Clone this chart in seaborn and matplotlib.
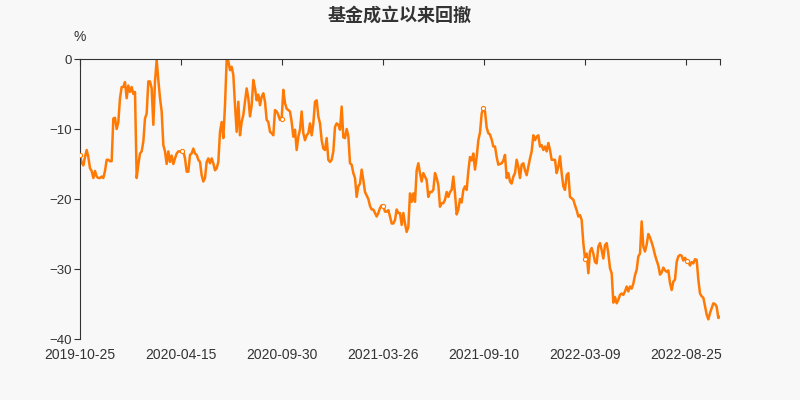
import numpy as np
import pandas as pd
import matplotlib
matplotlib.use("Agg")
import matplotlib.pyplot as plt
import seaborn as sns

# 回撤数据 (%)，按交易日顺序等间距读取
drawdown = [
    -13.7, -14.8, -15.2, -14.0, -13.0, -14.0, -15.6, -16.0, -17.0, -16.0,
    -16.8, -17.0, -17.0, -16.8, -17.0, -16.0, -14.4, -14.4, -14.6, -14.6,
    -8.5, -8.4, -10.0, -9.0, -5.6, -4.0, -4.0, -3.3, -5.6, -3.8,
    -4.7, -4.0, -5.0, -4.7, -17.0, -15.1, -13.5, -13.2, -11.8, -8.5,
    -7.8, -3.2, -3.2, -4.2, -9.4, -3.2, -0.1, -3.0, -5.6, -7.5,
    -12.3, -13.2, -15.0, -13.2, -14.7, -13.8, -15.0, -14.2, -13.5, -13.2,
    -13.2, -13.2, -13.2, -14.2, -16.1,
    -16.1, -13.7, -13.5, -12.8, -13.5, -13.7, -14.4, -14.7, -16.6, -17.5,
    -17.0, -14.7, -14.2, -14.9, -14.2, -14.9, -15.9, -15.6, -14.7, -10.4,
    -9.0, -11.3, -6.6, -0.1, -0.3, -1.6, -1.1, -2.3, -6.6, -10.4,
    -6.1, -10.9, -9.0, -8.0, -6.1, -4.2, -5.6, -8.2, -6.6, -3.0,
    -4.2, -5.9, -5.1, -6.6, -5.4, -4.9, -6.1, -8.7, -9.0, -10.4,
    -10.6, -10.9, -7.3, -7.5, -8.0, -8.7, -8.5, -4.4, -6.3, -7.1,
    -7.3, -7.5, -9.0, -11.1,
    -10.1, -13.0, -11.1, -10.1, -7.5, -10.6, -11.6, -10.9, -10.6, -9.2,
    -10.9, -9.2, -6.1, -5.9, -8.2, -9.2, -11.6, -12.8, -13.0, -11.3,
    -14.4, -14.7, -14.4, -13.2, -9.7, -9.2, -9.4, -10.1, -6.8, -11.2,
    -11.3, -10.0, -11.0, -14.9, -15.1, -16.3, -17.0, -19.7, -18.2, -17.8,
    -15.8, -17.3, -19.0, -19.5, -20.0, -21.0, -21.5, -21.5, -22.0, -22.5,
    -22.0, -21.3, -20.9, -21.0, -21.8, -21.8, -21.6, -22.5, -23.5, -23.5,
    -23.0, -21.5, -22.0,
    -22.0, -23.7, -22.0, -23.5, -24.7, -24.0, -19.2, -20.4, -19.2, -20.4,
    -15.9, -14.9, -16.3, -17.5, -16.3, -16.8, -17.3, -19.7, -19.0, -19.0,
    -18.7, -16.3, -17.0, -18.0, -21.1, -20.6, -20.6, -20.1, -19.0, -19.7,
    -19.0, -18.7, -16.8, -19.2, -22.2, -21.5, -20.0, -20.5, -18.7, -18.2,
    -18.7, -16.0, -14.0, -14.5, -13.5, -15.8, -14.0, -11.6, -10.5, -7.8,
    -7.0, -7.5, -9.8, -10.6, -10.8, -11.5, -12.5, -12.5, -14.0, -15.1,
    -15.0, -14.9, -14.5,
    -13.7, -17.0, -16.3, -17.5, -17.8, -16.8, -16.3, -14.4, -15.4, -17.0,
    -15.1, -14.9, -15.9, -16.6, -15.4, -14.2, -13.2, -10.9, -11.6, -11.1,
    -10.9, -12.5, -12.3, -13.0, -12.5, -13.2, -12.0, -13.0, -14.4, -14.4,
    -14.4, -16.3, -15.4, -13.9, -16.3, -18.2, -18.7, -16.6, -16.3, -19.7,
    -19.9, -20.1, -20.9, -21.6, -22.5, -22.3, -23.0, -26.3, -28.5, -27.8,
    -30.6, -27.5, -27.0, -27.8, -29.0, -29.2, -26.8, -26.3, -27.3, -28.5,
    -26.6, -26.3, -27.8,
    -29.9, -30.6, -34.8, -34.0, -34.9, -34.4, -33.7, -33.5, -33.7, -33.2,
    -32.5, -33.2, -32.5, -32.8, -32.1, -30.9, -30.1, -28.2, -27.8, -23.2,
    -26.8, -27.5, -26.5, -25.0, -25.5, -26.2, -27.0, -28.0, -28.8, -29.5,
    -30.8, -30.5, -29.8, -30.2, -30.4, -30.2, -32.0, -33.0, -31.8, -31.5,
    -29.0, -28.2, -28.0, -28.1, -28.8, -28.4, -28.8, -29.0, -29.5, -29.0,
    -29.2, -28.6, -28.7, -31.5, -33.5, -33.9, -34.1, -35.3, -36.5, -37.2,
    -36.3, -35.6, -34.9, -35.0, -35.4, -37.0, -36.8,
]

n_days = 736
tick_step = 116
tick_labels = ["2019-10-25", "2020-04-15", "2020-09-30", "2021-03-26",
               "2021-09-10", "2022-03-09", "2022-08-25"]
y_ticks = [0, -10, -20, -30, -40]

line_color = "#ff7a05"
bg = "#f8f8f8"
axis_color = "#333333"

sns.set_theme(style="white")
plt.rcParams["font.family"] = ["Noto Sans CJK SC", "DejaVu Sans"]

df = pd.DataFrame({
    "day": np.linspace(0, n_days - 1, len(drawdown)),
    "drawdown": drawdown,
})

fig = plt.figure(figsize=(8, 4), dpi=100, facecolor=bg)
ax = fig.add_axes([0.1, 0.1525, 0.8, 0.7])
ax.set_facecolor(bg)

sns.lineplot(data=df, x="day", y="drawdown", color=line_color,
             linewidth=1.8, ax=ax)

# 刻度处的空心小圆点
tick_pos = [i * tick_step for i in range(len(tick_labels))]
mark_idx = [int(np.argmin(np.abs(df["day"].values - p))) for p in tick_pos]
ax.plot(df["day"].iloc[mark_idx], df["drawdown"].iloc[mark_idx],
        linestyle="none", marker="o", ms=3, mfc="white",
        mec=line_color, mew=0.8, zorder=3)

ax.set_xlim(0, n_days - 1)
ax.set_ylim(-40, 0)

ax.set_xticks(tick_pos + [n_days - 1])
ax.set_xticklabels(tick_labels + [""], fontsize=10, color=axis_color,
                   family="Liberation Sans")
ax.set_yticks(y_ticks)
ax.set_yticklabels(["0", "\u221210", "\u221220", "\u221230", "\u221240"],
                   fontsize=9.5, color=axis_color, family="Liberation Sans")

ax.tick_params(axis="x", bottom=False, top=True, labelbottom=True,
               labeltop=False, direction="in", length=4, width=0.8,
               color=axis_color, pad=6.5)
ax.tick_params(axis="y", left=True, direction="out", length=4, width=0.8,
               color=axis_color, pad=2)

for side in ["bottom", "right"]:
    ax.spines[side].set_visible(False)
for side in ["left", "top"]:
    ax.spines[side].set_color(axis_color)
    ax.spines[side].set_linewidth(0.8)

ax.set_xlabel("")
ax.set_ylabel("")
ax.grid(False)

fig.text(0.5, 0.963, "基金成立以来回撤", ha="center", va="center",
         fontsize=13, fontweight="bold", color=axis_color)
fig.text(0.099, 0.907, "%", ha="center", va="center", fontsize=10,
         color=axis_color, family="Liberation Sans")

fig.savefig("out.png", dpi=100, facecolor=bg)
